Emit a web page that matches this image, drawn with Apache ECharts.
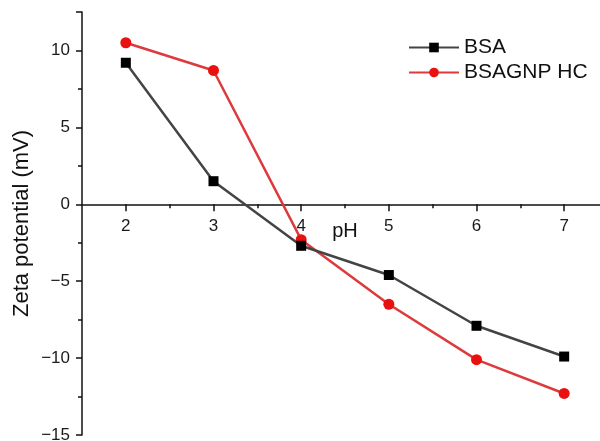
<!DOCTYPE html>
<html>
<head>
<meta charset="utf-8">
<script src="https://cdn.jsdelivr.net/npm/echarts@6/dist/echarts.min.js"></script>
<style>
  html, body { margin: 0; padding: 0; background: #fff; }
  #myEcharts { width: 600px; height: 441px; }
</style>
</head>
<body>
<div id="myEcharts"></div>
<script>
// data
const phValues = [2, 3, 4, 5, 6, 7];
const phMinorTicks = [2.5, 3.5, 4.5, 5.5, 6.5];
const bsaZeta = [9.2, 1.5, -2.7, -4.6, -7.9, -9.9];
const bsagnpZeta = [10.5, 8.7, -2.3, -6.5, -10.1, -12.3];
const yTickLabels = [-15, -10, -5, 0, 5, 10];

const toPairs = (xs, ys) => xs.map((x, i) => [x, ys[i]]);
const font = 'Liberation Sans, Arial, sans-serif';
const ink = '#111';

// x axis sits on y = 0 (moved up from the grid bottom)
const zeroOffset = -230.7;

let chart = echarts.init(document.getElementById("myEcharts"));
chart.setOption({
  animation: false,
  textStyle: { fontFamily: font },
  grid: { left: 82, right: -8, top: 12, bottom: 6, containLabel: false, outerBoundsMode: 'none' },
  legend: {
    orient: 'vertical',
    left: 403,
    top: 32,
    itemWidth: 50,
    itemHeight: 12,
    itemGap: 4,
    textStyle: { fontSize: 21, color: ink, fontFamily: font },
    data: ['BSA', 'BSAGNP HC']
  },
  xAxis: [
    {
      type: 'value',
      min: 1.5,
      max: 7.5,
      interval: 0.5,
      position: 'bottom',
      offset: zeroOffset,
      name: 'pH',
      nameLocation: 'middle',
      nameGap: 17,
      nameMoveOverlap: false,
      nameTextStyle: { fontSize: 20, color: ink },
      splitLine: { show: false },
      axisLine: { onZero: false, lineStyle: { color: ink, width: 1.5 } },
      axisTick: { inside: false, length: 7, customValues: phValues, lineStyle: { color: ink, width: 1.5 } },
      axisLabel: { fontSize: 17, color: '#1a1a1a', margin: 14, customValues: phValues }
    },
    {
      type: 'value',
      min: 1.5,
      max: 7.5,
      interval: 0.5,
      position: 'bottom',
      offset: zeroOffset,
      splitLine: { show: false },
      axisLine: { show: false, onZero: false },
      axisTick: { inside: false, length: 4, customValues: phMinorTicks, lineStyle: { color: ink, width: 1.5 } },
      axisLabel: { show: false }
    }
  ],
  yAxis: {
    type: 'value',
    min: -15,
    max: 12.5,
    interval: 5,
    name: 'Zeta potential (mV)',
    nameLocation: 'middle',
    nameGap: 49,
    nameMoveOverlap: false,
    nameTextStyle: { fontSize: 22, color: ink },
    splitLine: { show: false },
    axisLine: { onZero: false, lineStyle: { color: ink, width: 1.5 } },
    axisTick: { inside: false, length: 6, lineStyle: { color: ink, width: 1.5 } },
    minorTick: { show: true, splitNumber: 2, length: 4, lineStyle: { color: ink, width: 1.5 } },
    axisLabel: {
      fontSize: 17, color: '#1a1a1a', margin: 12,
      formatter: v => yTickLabels.includes(v) ? String(v).replace('-', '\u2212') : ''
    }
  },
  series: [
    {
      name: 'BSA',
      type: 'line',
      data: toPairs(phValues, bsaZeta),
      symbol: 'rect',
      symbolSize: 10,
      itemStyle: { color: '#000' },
      lineStyle: { color: '#444', width: 2.5 },
      z: 3
    },
    {
      name: 'BSAGNP HC',
      type: 'line',
      data: toPairs(phValues, bsagnpZeta),
      symbol: 'circle',
      symbolSize: 11,
      itemStyle: { color: '#e8110f' },
      lineStyle: { color: '#de3a3c', width: 2.5 },
      z: 2
    }
  ]
});
</script>
</body>
</html>
